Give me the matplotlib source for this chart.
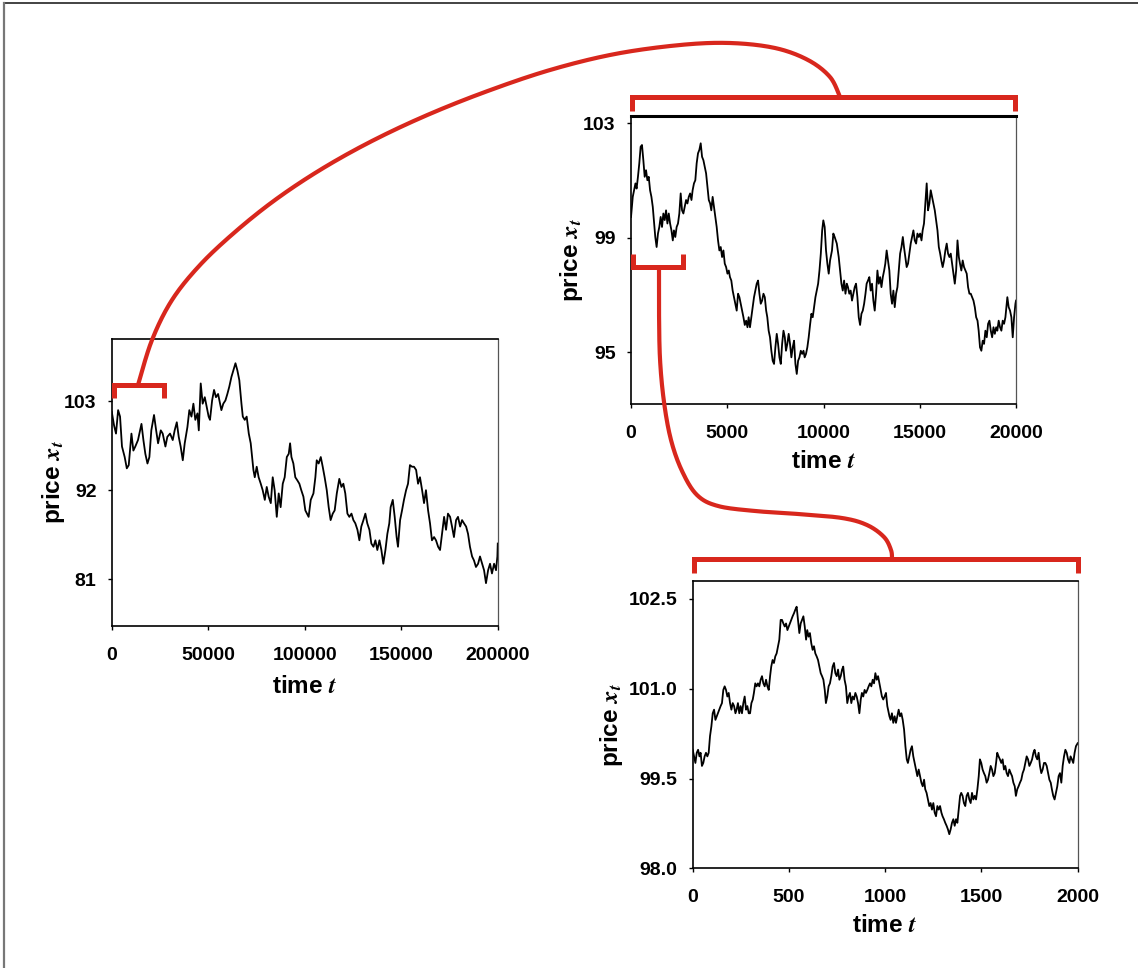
import numpy as np
import matplotlib
matplotlib.use("Agg")
import matplotlib.pyplot as plt

plt.rcParams["font.family"] = ["Liberation Sans", "DejaVu Sans"]
plt.rcParams["font.weight"] = "bold"
plt.rcParams["axes.labelweight"] = "bold"
plt.rcParams["mathtext.fontset"] = "stix"

RED = "#d8271d"

# ---- long run: 200000 steps ----
t1 = [0, 1200, 2200, 3300, 4300, 5300, 6700, 7800, 8800, 10200, 11200, 12200, 13600, 15400,
      16400, 17400, 18500, 19500, 20500, 21900, 23000, 24000, 25400, 26400, 27800, 28800,
      30200, 31600, 32600, 33700, 34700, 35700, 36800, 37800, 39200, 40200, 41300, 42300,
      43300, 44400, 45100, 46100, 47100, 48200, 49200, 50200, 50900, 52000, 53000, 54000,
      55100, 56100, 56800, 57800, 58900, 59900, 60900, 62000, 63000, 64100, 65100, 66100,
      67200, 67900, 68900, 69900, 71000, 72000, 72700, 73400, 74100, 75100, 76100, 77200,
      78200, 79300, 80300, 81300, 82400, 83400, 84400, 85500, 86500, 87500, 88600, 89600,
      90700, 91700, 92400, 93100, 94100, 95100, 96200, 97200, 98200, 99300, 100300, 102000,
      103100, 104500, 105500, 106200, 107200, 108300, 109300, 110300, 111400, 112400, 113400,
      114500, 115500, 116600, 117900, 119000, 120000, 121000, 122100, 123100, 124200, 125200,
      126200, 127300, 128300, 129300, 130400, 131400, 132400, 133500, 134500, 135600, 136600,
      137600, 138700, 139700, 140700, 141800, 142800, 143800, 144500, 145600, 146600, 147600,
      148300, 149400, 150400, 151400, 152500, 153500, 154500, 155600, 156600, 157700, 158700,
      159700, 160800, 161800, 162800, 163900, 164900, 165900, 167000, 168000, 169100, 170100,
      171100, 172200, 173200, 174200, 175300, 176300, 177300, 178400, 179400, 180500, 181500,
      182500, 183600, 184600, 185600, 186700, 187700, 188700, 189800, 190800, 191900, 192900,
      193900, 195000, 196000, 197000, 198100, 199100, 199800, 200000]
p1 = [101.7, 100.0, 99.0, 101.9, 101.1, 97.4, 96.1, 94.7, 95.1, 99.0, 96.9, 97.4, 98.2, 100.2,
      98.2, 96.5, 95.3, 96.1, 99.4, 101.3, 99.4, 97.8, 99.4, 99.0, 97.4, 98.6,
      99.0, 98.2, 99.4, 100.4, 98.6, 97.4, 95.7, 97.8, 99.8, 101.9, 101.1, 102.7,
      100.7, 101.5, 99.4, 105.2, 102.7, 103.5, 102.3, 101.1, 100.7, 103.1, 104.4, 103.5,
      103.9, 102.7, 101.9, 102.7, 103.1, 103.9, 104.8, 106.0, 106.8, 107.7, 106.8, 105.6,
      102.7, 101.1, 100.7, 101.1, 99.0, 97.8, 96.1, 94.5, 93.6, 94.9, 93.6, 92.8,
      92.0, 90.8, 92.4, 91.2, 90.4, 93.6, 92.0, 88.7, 91.6, 89.9, 92.8, 93.6,
      96.1, 96.5, 97.8, 96.1, 95.3, 93.6, 93.2, 92.8, 92.0, 91.2, 89.5, 88.7,
      90.8, 91.6, 93.6, 95.7, 95.3, 96.1, 94.9, 93.6, 92.0, 89.9, 88.3,
      89.1, 89.5, 91.6, 93.4, 92.4, 92.8, 91.6, 89.1, 88.7, 89.1, 88.3,
      87.9, 87.1, 85.8, 87.5, 88.3, 89.1, 87.9, 87.1, 85.4, 85.0, 85.8,
      84.6, 85.8, 84.6, 82.9, 84.6, 86.6, 87.9, 89.9, 90.8, 88.7, 86.2,
      85.0, 88.3, 89.5, 90.8, 92.0, 92.8, 95.1, 94.9, 94.9, 94.5, 92.8,
      93.6, 92.0, 90.4, 92.0, 89.5, 87.9, 85.8, 86.2, 85.8, 85.0, 84.6,
      86.6, 88.7, 87.1, 89.1, 88.7, 87.5, 86.2, 88.3, 88.7, 87.5, 88.3,
      87.9, 87.5, 86.6, 85.0, 83.8, 83.3, 82.5, 82.9, 83.8, 82.9, 82.1,
      80.5, 82.1, 82.9, 81.7, 82.9, 82.1, 83.8, 85.4]

# ---- first 20000 steps ----
t2 = [0, 90, 160, 230, 290, 360, 430, 500, 570, 640, 710, 780, 850, 920, 990, 1060, 1130, 1200,
      1260, 1330, 1400, 1470, 1540, 1610, 1680, 1750, 1820, 1890, 1960, 2030, 2100, 2170, 2230,
      2300, 2370, 2440, 2510, 2580, 2650, 2720, 2790, 2860, 2930, 3000, 3070, 3140, 3200, 3270,
      3340, 3410, 3480, 3550, 3620, 3690, 3760, 3830, 3900, 3970, 4040, 4110, 4170, 4240, 4310,
      4380, 4450, 4520, 4590, 4660, 4730, 4800, 4870, 4940, 5010, 5080, 5140, 5210, 5280, 5350,
      5420, 5490, 5560, 5630, 5700, 5770, 5840, 5910, 5980, 6050, 6110, 6180, 6250, 6320, 6390,
      6460, 6530, 6600, 6670, 6740, 6810, 6880, 6950, 7020, 7080, 7150, 7220, 7290, 7360, 7430,
      7500, 7570, 7640, 7710, 7780, 7850, 7920, 7990, 8050, 8120, 8190, 8260, 8330, 8400, 8470,
      8540, 8610, 8680, 8750, 8820, 8890, 8960, 9020, 9090, 9160, 9230, 9300, 9370, 9440, 9510,
      9580, 9650, 9720, 9790, 9860, 9930, 9990, 10060, 10130, 10200, 10270, 10340, 10440, 10510,
      10580, 10690, 10790, 10860, 10930, 11000, 11070, 11140, 11210, 11270, 11340, 11410, 11480,
      11550, 11620, 11690, 11760, 11830, 11900, 11970, 12040, 12110, 12180, 12240, 12310, 12380,
      12450, 12520, 12590, 12660, 12730, 12800, 12870, 12940, 13010, 13080, 13150, 13210, 13280,
      13350, 13420, 13490, 13560, 13630, 13700, 13770, 13840, 13910, 13980, 14050, 14120, 14180,
      14250, 14320, 14390, 14460, 14530, 14600, 14670, 14740, 14810, 14880, 14950, 15020, 15090,
      15150, 15220, 15290, 15360, 15430, 15500, 15570, 15640, 15710, 15780, 15850, 15920, 15990,
      16060, 16120, 16190, 16260, 16330, 16400, 16470, 16540, 16610, 16680, 16750, 16820, 16890,
      16960, 17030, 17090, 17160, 17230, 17300, 17370, 17440, 17510, 17580, 17650, 17720, 17790,
      17860, 17930, 18000, 18060, 18130, 18200, 18270, 18340, 18410, 18480, 18550, 18620, 18690,
      18760, 18830, 18900, 18970, 19030, 19100, 19170, 19240, 19310, 19380, 19450, 19520, 19550,
      19620, 19690, 19760, 19830, 19900, 19970, 20000]
p2 = [99.73, 100.43, 100.66, 100.90, 100.72, 101.13, 101.60, 102.18, 102.24, 101.71, 101.13,
      101.36, 101.01, 101.13, 100.66, 100.43, 100.08, 99.50, 99.03, 98.68, 99.15, 99.38, 99.73,
      99.38, 99.85, 99.62, 99.96, 99.50, 99.85, 99.50, 99.26, 98.91, 99.26, 99.03, 99.38, 99.50,
      99.85, 100.55, 99.96, 99.85, 100.08, 100.32, 100.20, 100.43, 100.55, 100.32, 100.66,
      100.90, 101.01, 101.60, 101.95, 102.07, 102.30, 101.83, 101.71, 101.48, 101.25, 100.78,
      100.32, 100.20, 99.96, 100.43, 100.08, 99.73, 99.38, 98.91, 98.56, 98.68, 98.33, 98.56,
      98.10, 97.98, 97.75, 97.86, 97.63, 97.51, 97.16, 96.93, 96.70, 96.46, 97.05, 96.93, 96.70,
      96.46, 96.23, 95.96, 96.11, 95.88, 96.23, 95.88, 96.23, 96.58, 96.93, 97.16, 97.40, 97.51,
      97.05, 96.70, 96.81, 97.05, 96.93, 96.46, 96.23, 95.76, 95.53, 95.06, 94.71, 94.60, 95.18,
      95.65, 95.30, 94.83, 94.60, 95.30, 95.76, 95.53, 95.06, 95.30, 95.65, 95.30, 94.83, 95.18,
      95.41, 94.60, 94.25, 94.71, 94.83, 95.06, 94.95, 95.06, 94.83, 94.95, 95.18, 95.53, 95.96,
      96.35, 96.23, 96.58, 96.93, 97.16, 97.40, 97.86, 98.45, 99.26, 99.61, 99.38, 98.56, 98.10,
      97.75, 98.21, 98.56, 99.15, 99.03, 98.80, 98.33, 97.86, 97.40, 97.16, 97.51, 97.05, 97.40,
      97.28, 97.05, 97.16, 96.81, 97.05, 97.28, 97.40, 96.93, 96.23, 95.96, 96.35, 96.46, 96.70,
      97.05, 97.40, 97.51, 97.63, 97.16, 97.40, 96.81, 96.46, 97.05, 97.86, 97.40, 97.63, 97.28,
      97.63, 97.86, 98.10, 98.56, 98.21, 97.86, 97.05, 96.70, 97.16, 96.58, 97.05, 97.28, 97.86,
      98.45, 98.68, 99.03, 98.68, 98.33, 97.98, 98.10, 98.45, 98.80, 99.03, 99.26, 98.91, 98.80,
      99.15, 99.03, 99.15, 98.91, 99.26, 99.50, 100.20, 100.90, 99.96, 100.20, 100.66, 100.43,
      100.20, 99.96, 99.61, 99.26, 98.68, 98.45, 98.21, 97.98, 98.21, 98.56, 98.80, 98.45, 98.33,
      98.45, 98.10, 97.75, 97.40, 97.86, 98.91, 98.33, 98.10, 97.86, 98.21, 97.98, 97.86, 97.75,
      97.28, 97.05, 97.05, 96.93, 96.81, 96.58, 96.23, 96.11, 95.76, 95.18, 95.06, 95.41, 95.30,
      95.76, 95.53, 96.00, 96.11, 95.76, 95.53, 95.88, 95.65, 95.88, 95.76, 96.11, 95.88, 95.76,
      96.11, 96.00, 96.23, 96.70, 96.93, 96.58, 96.46, 96.23, 95.53, 96.23, 96.70, 96.81]

# ---- first 2000 steps ----
t3 = [0, 7, 14, 21, 28, 35, 41, 48, 55, 62, 69, 76, 83, 90, 97, 104, 111, 118, 125, 131, 138,
      145, 152, 159, 166, 173, 180, 187, 194, 201, 208, 215, 222, 228, 235, 242, 249, 256, 263,
      270, 277, 284, 291, 298, 305, 312, 318, 325, 332, 339, 346, 353, 360, 367, 374, 381, 388,
      395, 402, 408, 415, 422, 429, 436, 443, 450, 457, 464, 471, 478, 485, 492, 499, 505, 512,
      519, 526, 533, 540, 547, 554, 561, 568, 575, 582, 589, 595, 602, 609, 616, 623, 630, 637,
      644, 651, 658, 665, 672, 679, 686, 692, 699, 706, 713, 720, 727, 734, 741, 748, 755, 762,
      769, 776, 782, 789, 796, 803, 810, 817, 824, 831, 838, 845, 852, 859, 866, 873, 879, 886,
      893, 900, 907, 914, 921, 928, 935, 942, 949, 956, 963, 970, 976, 983, 990, 997, 1004, 1011,
      1015, 1022, 1028, 1035, 1042, 1049, 1056, 1063, 1070, 1077, 1084, 1091, 1098, 1105, 1112,
      1118, 1125, 1132, 1139, 1146, 1153, 1160, 1167, 1174, 1181, 1188, 1195, 1202, 1208, 1215,
      1222, 1229, 1236, 1243, 1250, 1257, 1264, 1271, 1278, 1285, 1292, 1298, 1305, 1312, 1319,
      1326, 1333, 1340, 1347, 1354, 1361, 1368, 1375, 1382, 1389, 1395, 1402, 1409, 1416, 1423,
      1430, 1437, 1444, 1451, 1458, 1465, 1472, 1479, 1486, 1492, 1499, 1506, 1513, 1520, 1527,
      1534, 1541, 1548, 1555, 1562, 1569, 1576, 1582, 1589, 1596, 1603, 1610, 1617, 1624, 1631,
      1638, 1645, 1652, 1659, 1666, 1673, 1679, 1686, 1693, 1700, 1707, 1714, 1721, 1728, 1735,
      1742, 1749, 1756, 1763, 1770, 1776, 1783, 1790, 1797, 1804, 1811, 1818, 1825, 1832, 1839,
      1846, 1853, 1860, 1866, 1873, 1880, 1887, 1894, 1901, 1908, 1915, 1922, 1929, 1936, 1943,
      1950, 1957, 1963, 1970, 1977, 1984, 1991, 2000]
p3 = [99.98, 99.87, 99.76, 99.93, 99.98, 99.87, 99.93, 99.71, 99.76, 99.87, 99.93, 99.87, 99.93,
      100.21, 100.37, 100.59, 100.65, 100.48, 100.54, 100.59, 100.65, 100.71, 100.76, 100.98,
      101.04, 100.98, 100.87, 100.93, 100.76, 100.65, 100.76, 100.71, 100.59, 100.65, 100.76,
      100.59, 100.71, 100.59, 100.76, 100.87, 100.65, 100.71, 100.59, 100.59, 100.76, 100.82,
      100.93, 101.09, 101.04, 101.09, 101.04, 101.15, 101.21, 101.09, 101.04, 101.15, 101.04,
      100.98, 101.21, 101.37, 101.48, 101.43, 101.54, 101.59, 101.71, 101.82, 102.15, 102.15,
      102.09, 102.04, 102.09, 101.98, 102.04, 102.09, 102.15, 102.21, 102.26, 102.32, 102.37,
      102.15, 101.93, 102.09, 102.15, 102.21, 102.04, 101.82, 101.98, 101.87, 101.93, 101.76,
      101.65, 101.71, 101.59, 101.54, 101.48, 101.37, 101.26, 101.21, 101.15, 100.98, 100.76,
      100.87, 101.04, 101.09, 101.21, 101.37, 101.43, 101.26, 101.21, 101.32, 101.15, 101.21,
      101.32, 101.37, 101.15, 101.04, 100.76, 100.87, 100.93, 100.76, 100.87, 100.82, 100.93,
      100.87, 100.76, 100.59, 100.82, 100.93, 100.87, 100.98, 100.93, 100.98, 101.04, 101.09,
      101.04, 101.15, 101.09, 101.26, 101.15, 101.21, 101.09, 100.98, 100.87, 100.82, 100.87,
      100.93, 100.71,
      100.65, 100.54, 100.48, 100.59, 100.43, 100.54, 100.43, 100.54, 100.65, 100.54, 100.59,
      100.48, 100.32, 100.04, 99.82, 99.76, 99.87, 99.98, 100.04, 99.87, 99.76, 99.65, 99.54,
      99.65, 99.54, 99.43, 99.37, 99.48, 99.32, 99.26, 99.15, 99.04, 99.09, 98.98, 99.09, 98.93,
      98.87, 99.04, 98.98, 99.04, 98.93, 98.87, 98.82, 98.76, 98.71, 98.65, 98.57, 98.65, 98.76,
      98.82, 98.71, 98.82, 98.76, 98.98, 99.21, 99.26, 99.21, 99.09, 99.04, 99.21, 99.26, 99.15,
      99.09, 99.26, 99.15, 99.21, 99.15, 99.32, 99.54, 99.82, 99.76, 99.65, 99.59, 99.54, 99.43,
      99.48, 99.59, 99.71, 99.65, 99.54, 99.59, 99.76, 99.93, 99.87, 99.82, 99.76, 99.82, 99.65,
      99.71, 99.59, 99.54, 99.65, 99.59, 99.54, 99.43, 99.37, 99.21, 99.32, 99.37, 99.43, 99.48,
      99.59, 99.65, 99.76, 99.87, 99.82, 99.71, 99.76, 99.82, 99.93, 99.98, 99.87, 99.82, 99.93,
      99.71, 99.59, 99.65, 99.76, 99.76, 99.71, 99.59, 99.48, 99.43, 99.32, 99.21, 99.15, 99.26,
      99.37, 99.54, 99.59, 99.43, 99.71, 99.87, 99.98, 99.93, 99.82, 99.76, 99.87, 99.82, 99.76,
      99.93, 100.04, 100.09]

panels = [
    # (t, p, rect, xmax, ylim, xticks, yticks, yfmt, ylabel x, xlabel y, top spine width)
    (t1, p1, [0.0982, 0.3533, 0.3392, 0.2965], 200000, (75.2, 110.7),
     [0, 50000, 100000, 150000, 200000], [81, 92, 103], "{:.0f}", -0.116, -0.17, 1.2),
    (t2, p2, [0.5545, 0.5826, 0.3383, 0.2975], 20000, (93.2, 103.25),
     [0, 5000, 10000, 15000, 20000], [95, 99, 103], "{:.0f}", -0.12, -0.16, 2.2),
    (t3, p3, [0.6087, 0.1030, 0.3383, 0.2968], 2000, (98.0, 102.8),
     [0, 500, 1000, 1500, 2000], [98.0, 99.5, 101.0, 102.5], "{:.1f}", -0.176, -0.16, 1.2),
]

fig = plt.figure(figsize=(11.38, 9.68), dpi=100)

for t, p, rect, xmax, ylim, xt, yt, yfmt, ylx, xly, topw in panels:
    ax = fig.add_axes(rect)
    ax.plot(t, p, color="black", linewidth=1.3)
    ax.set_xlim(0, xmax)
    ax.set_ylim(*ylim)
    ax.set_xticks(xt)
    ax.set_xticklabels([str(v) for v in xt])
    ax.set_yticks(yt)
    ax.set_yticklabels([yfmt.format(v) for v in yt])
    ax.tick_params(direction="out", length=3, width=1, labelsize=14)
    ax.tick_params(axis="x", pad=12)
    ax.tick_params(axis="y", pad=8)
    for side in ["left", "bottom", "top"]:
        ax.spines[side].set_linewidth(1.2)
    ax.spines["top"].set_linewidth(topw)
    ax.spines["right"].set_linewidth(0.9)
    ax.spines["right"].set_color("#555555")
    ax.set_xlabel(r"time $\mathbfit{t}$", fontsize=17.5)
    ax.set_ylabel(r"price $\mathbfit{x_t}$", fontsize=17.5)
    ax.xaxis.set_label_coords(0.5, xly)
    ax.yaxis.set_label_coords(ylx, 0.5)


def catmull(pts, n=24):
    pts = np.asarray(pts, float)
    q = np.vstack([pts[0], pts, pts[-1]])
    s = np.linspace(0, 1, n, endpoint=False)[:, None]
    out = []
    for i in range(1, len(q) - 2):
        a, b, c, d = q[i - 1], q[i], q[i + 1], q[i + 2]
        out.append(0.5 * (2 * b + (c - a) * s + (2 * a - 5 * b + 4 * c - d) * s ** 2
                          + (-a + 3 * b - 3 * c + d) * s ** 3))
    out.append(pts[-1:])
    return np.vstack(out)


# overlay in pixel coordinates for the zoom brackets and connectors
ov = fig.add_axes([0, 0, 1, 1])
ov.set_xlim(0, 1138)
ov.set_ylim(968, 0)
ov.axis("off")
ov.patch.set_alpha(0)
ov.set_zorder(10)

# thin page frame (top and left edges only)
ov.plot([4, 1138], [2.5, 2.5], color="#222222", lw=1.2)
ov.plot([4, 4], [2.5, 968], color="#777777", lw=1.6)

bk = dict(color=RED, lw=3.6, solid_capstyle="butt", solid_joinstyle="miter")
ov.plot([114, 114, 164, 164], [398, 384.5, 384.5, 398], **bk)
ov.plot([632, 632, 1015, 1015], [111, 97, 97, 111], **bk)
ov.plot([633, 633, 683.5, 683.5], [254, 267, 267, 254], **bk)
ov.plot([694, 694, 1078, 1078], [573, 559, 559, 573], **bk)

c1 = catmull([(138, 385), (152, 340), (172, 300), (200, 265), (235, 232), (275, 200),
              (320, 170), (370, 142), (425, 116), (485, 92), (550, 70), (615, 54),
              (680, 45), (730, 43), (775, 48), (808, 60), (830, 77), (840, 97)])
ov.plot(c1[:, 0], c1[:, 1], color=RED, lw=3.0, solid_capstyle="butt")

c2 = catmull([(659, 267), (659, 310), (660, 359), (664, 402), (671, 440), (682, 471),
              (697, 495), (718, 506), (755, 511), (798, 514), (842, 518), (867, 525),
              (884, 537), (891, 550), (892, 559)])
ov.plot(c2[:, 0], c2[:, 1], color=RED, lw=3.0, solid_capstyle="butt")

fig.savefig("out.png", dpi=100)
